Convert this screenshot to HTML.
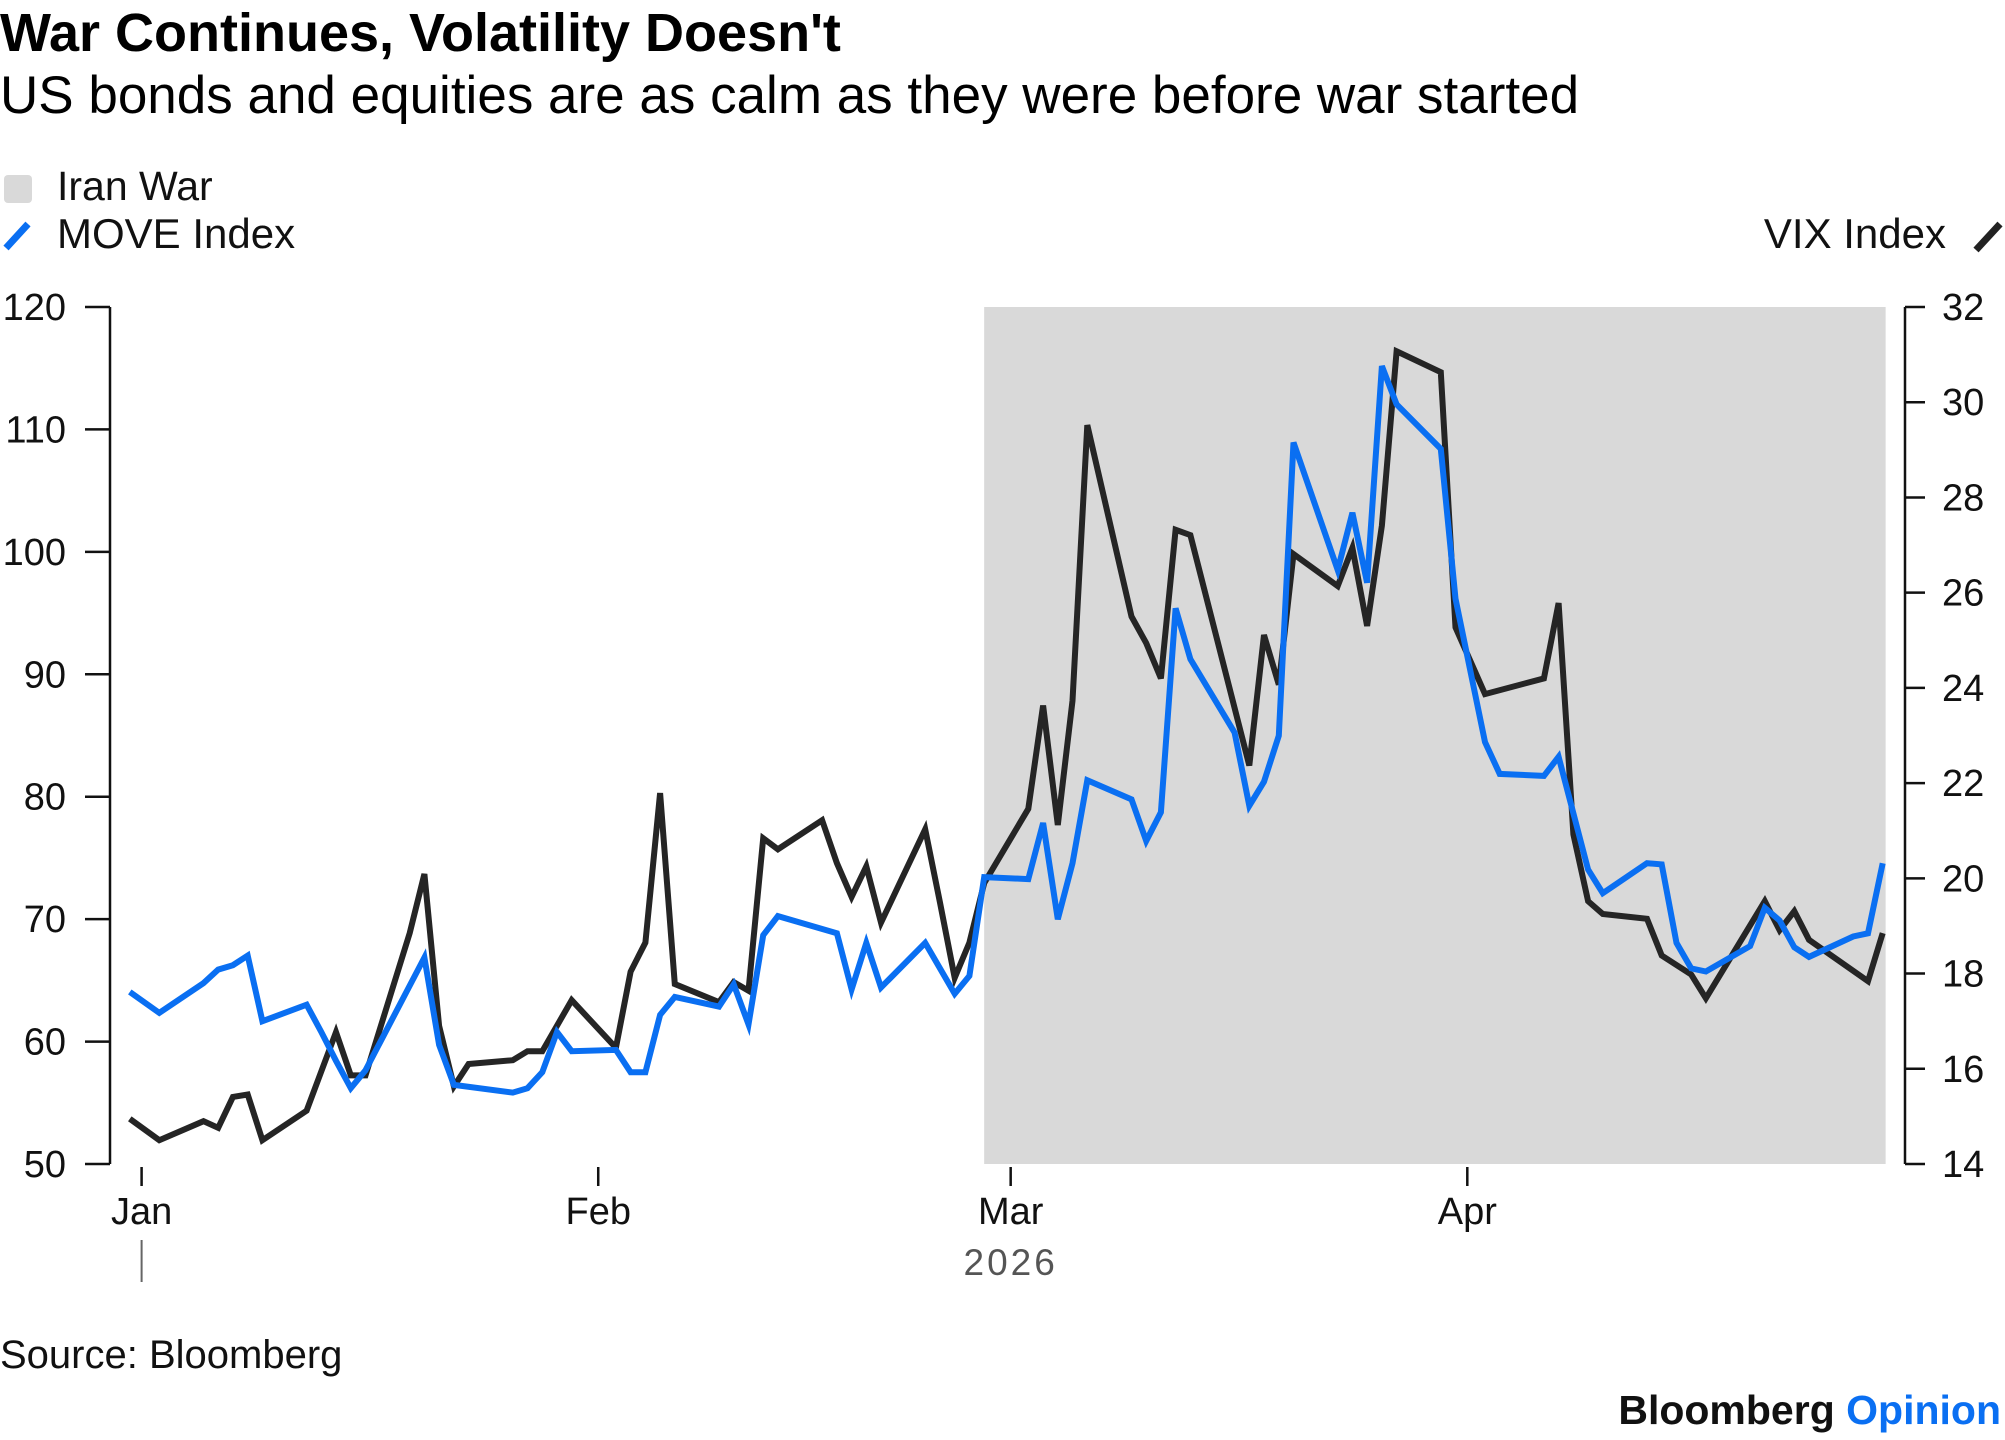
<!DOCTYPE html>
<html><head><meta charset="utf-8"><style>
html,body{margin:0;padding:0;background:#fff;}
svg{display:block;font-family:"Liberation Sans",Arial,sans-serif;}
</style></head><body>
<svg id="chart" width="2005" height="1440" viewBox="0 0 2005 1440">
<text x="0" y="51" font-size="54" font-weight="bold" fill="#000">War Continues, Volatility Doesn't</text>
<text x="0" y="113" font-size="53" fill="#000">US bonds and equities are as calm as they were before war started</text>
<g>
<rect x="4" y="175" width="28" height="28" rx="4" fill="#d9d9d9"/>
<text x="57" y="200" font-size="41" fill="#111">Iran War</text>
</g>
<g>
<line x1="6" y1="248" x2="28" y2="224" stroke="#0a6ff2" stroke-width="7"/>
<text x="57" y="248" font-size="42" fill="#111">MOVE Index</text>
</g>
<g>
<text x="1946" y="248" font-size="42" fill="#111" text-anchor="end">VIX Index</text>
<line x1="1976" y1="250" x2="2000" y2="224" stroke="#222" stroke-width="7"/>
</g>
<g id="plot"></g>
<text x="0" y="1368" font-size="40" fill="#111">Source: Bloomberg</text>
<text x="2001" y="1424" font-size="41" font-weight="bold" text-anchor="end"><tspan fill="#111">Bloomberg </tspan><tspan fill="#0a6ff2">Opinion</tspan></text>
</svg>
<script>
// VIX (right axis), day index from Jan 1 2026
const vixDays = [-1,1,4,5,6,7,8,11,13,14,15,18,19,20,21,22,25,26,27,29,32,33,34,35,36,39,40,41,42,43,46,47,48,49,50,53,54,55,56,57,60,61,62,63,64,67,68,69,70,71,75,76,77,78,81,82,83,84,85,88,89,91,95,96,97,98,99,102,103,105,106,110,111,112,113,117,118];
const vixValues = [14.95,14.5,14.9,14.76,15.41,15.46,14.5,15.12,16.77,15.86,15.86,18.85,20.09,16.9,15.63,16.1,16.18,16.37,16.37,17.44,16.44,18.04,18.65,21.79,17.78,17.4,17.82,17.64,20.84,20.61,21.22,20.32,19.61,20.25,19.07,21.03,19.49,17.91,18.65,19.9,21.46,23.63,21.12,23.73,29.52,25.5,24.94,24.2,27.32,27.21,22.37,25.11,24.07,26.81,26.14,26.94,25.3,27.41,31.07,30.63,25.27,23.87,24.2,25.78,20.92,19.52,19.25,19.15,18.38,17.98,17.48,19.52,18.91,19.31,18.71,17.84,18.85];
// MOVE (left axis)
const moveDays = [-1,1,4,5,6,7,8,11,12,13,14,15,19,20,21,25,26,27,28,29,32,33,34,35,36,39,40,41,42,43,47,48,49,50,53,55,56,57,60,61,62,63,64,67,68,69,70,71,74,75,76,77,78,81,82,83,84,85,88,89,91,92,95,96,98,99,102,103,104,105,106,109,110,111,112,113,116,117,118];
const moveValues = [64.06,62.34,64.78,65.88,66.24,67.02,61.66,63.01,60.78,58.43,56.19,57.65,66.87,59.73,56.46,55.83,56.19,57.5,60.78,59.21,59.32,57.5,57.5,62.18,63.64,62.86,64.68,61.4,68.69,70.25,68.84,64.26,68.06,64.42,68.06,63.9,65.36,73.43,73.27,77.85,69.99,74.57,81.34,79.78,76.39,78.73,95.39,91.23,85.24,79.26,81.23,84.98,108.93,98.52,103.2,97.48,115.17,112.05,108.41,96.17,84.46,81.86,81.7,83.26,74.05,72.12,74.57,74.47,68.06,65.98,65.72,67.8,70.93,69.89,67.7,66.92,68.58,68.84,74.57];
const leftTicks = [50,60,70,80,90,100,110,120];
const rightTicks = [14,16,18,20,22,24,26,28,30,32];
const monthLabels = ["Jan","Feb","Mar","Apr"];
const monthDays = [0,31,59,90];
const warStartDay = 57.0;
const warEndDay = 118.2;

const NS = "http://www.w3.org/2000/svg";
const plot = document.getElementById('plot');
const X0 = 141.6, PX_DAY = 14.73, DAY_OFF = 0.2;
const yTop = 307, yBot = 1164;
const xS = d => X0 + (d + DAY_OFF) * PX_DAY;
const yL = v => yBot - (v - 50) / 70 * (yBot - yTop);
const yR = v => yBot - (v - 14) / 18 * (yBot - yTop);
function mk(tag, attrs, parent) {
  const e = document.createElementNS(NS, tag);
  for (const k in attrs) e.setAttribute(k, attrs[k]);
  (parent || plot).appendChild(e);
  return e;
}
const shade = mk('rect', {x: xS(warStartDay), y: yTop, width: xS(warEndDay) - xS(warStartDay), height: yBot - yTop, fill: '#d9d9d9'});


const la = mk('line', {x1: 110, y1: yTop, x2: 110, y2: yBot, stroke: '#111', 'stroke-width': 2.5});


leftTicks.forEach(v => {
  const t = mk('line', {x1: 85, y1: yL(v), x2: 110, y2: yL(v), stroke: '#111', 'stroke-width': 2.5});
  
  
  const l = mk('text', {x: 66, y: yL(v) + 13, 'font-size': 38, 'text-anchor': 'end', fill: '#111'});
  l.textContent = v;
  
  
});
const ra = mk('line', {x1: 1905, y1: yTop, x2: 1905, y2: yBot, stroke: '#111', 'stroke-width': 2.5});


rightTicks.forEach(v => {
  const t = mk('line', {x1: 1905, y1: yR(v), x2: 1925, y2: yR(v), stroke: '#111', 'stroke-width': 2.5});
  
  
  const l = mk('text', {x: 1942, y: yR(v) + 13, 'font-size': 38, fill: '#111'});
  l.textContent = v;
  
  
});
monthLabels.forEach((m, i) => {
  const x = X0 + monthDays[i] * PX_DAY;
  const t = mk('line', {x1: x, y1: yBot + 3, x2: x, y2: yBot + 22, stroke: '#111', 'stroke-width': 2.5});
  
  
  const l = mk('text', {x: x, y: 1224, 'font-size': 38, 'text-anchor': 'middle', fill: '#111'});
  l.textContent = m;
  
  
});
const yt = mk('line', {x1: X0, y1: 1240, x2: X0, y2: 1282, stroke: '#666', 'stroke-width': 2});


const yl = mk('text', {x: X0 + monthDays[2] * PX_DAY, y: 1275, 'font-size': 37, 'text-anchor': 'middle', fill: '#555', 'letter-spacing': 3});
yl.textContent = '2026';


const vixPts = vixDays.map((d, i) => xS(d).toFixed(1) + ',' + yR(vixValues[i]).toFixed(1)).join(' ');
const vl = mk('polyline', {points: vixPts, fill: 'none', stroke: '#252525', 'stroke-width': 6, 'stroke-linejoin': 'miter'});


const movePts = moveDays.map((d, i) => xS(d).toFixed(1) + ',' + yL(moveValues[i]).toFixed(1)).join(' ');
const ml = mk('polyline', {points: movePts, fill: 'none', stroke: '#0a6ff2', 'stroke-width': 6, 'stroke-linejoin': 'miter'});


</script>
</body></html>
